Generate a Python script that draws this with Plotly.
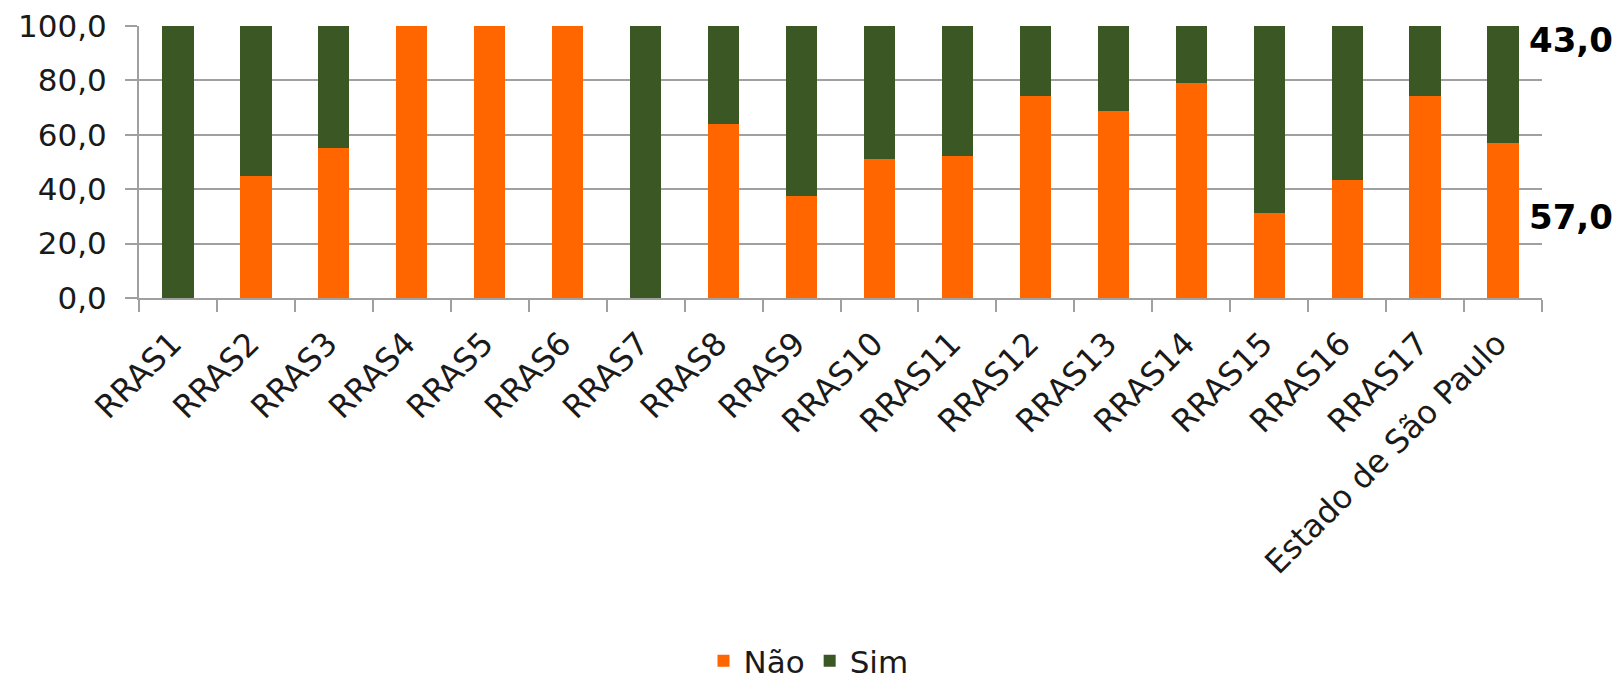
import plotly.graph_objects as go

categories = ["RRAS1", "RRAS2", "RRAS3", "RRAS4", "RRAS5", "RRAS6", "RRAS7", "RRAS8",
              "RRAS9", "RRAS10", "RRAS11", "RRAS12", "RRAS13", "RRAS14", "RRAS15",
              "RRAS16", "RRAS17", "Estado de São Paulo"]
nao = [0.0, 45.0, 55.0, 100.0, 100.0, 100.0, 0.0, 63.8, 37.4, 51.0, 52.2, 74.4,
       68.6, 79.0, 31.1, 43.3, 74.4, 57.0]
sim = [round(100 - v, 1) for v in nao]
label_values = [43.0, 57.0]
label_positions = [94.8, 29.8]

FONT = "DejaVu Sans, Verdana, sans-serif"
ORANGE = "#FF6600"
GREEN = "#3B5723"

fig = go.Figure()
fig.add_trace(go.Bar(x=categories, y=nao, name="Não", marker_color=ORANGE,
                     marker_line_width=0))
fig.add_trace(go.Bar(x=categories, y=sim, name="Sim", marker_color=GREEN,
                     marker_line_width=0))

for v, p in zip(label_values, label_positions):
    fig.add_annotation(x=categories[-1], y=p, xref="x", yref="y",
                       text="<b>" + f"{v:.1f}".replace(".", ",") + "</b>",
                       showarrow=False, xanchor="left", xshift=24,
                       font=dict(family=FONT, size=34, color="#000000"))

fig.update_layout(
    barmode="stack",
    bargap=0.6,
    width=1617, height=679,
    margin=dict(l=139, r=75, t=26, b=381),
    plot_bgcolor="white", paper_bgcolor="white",
    font=dict(family=FONT, size=30, color="#000000"),
    showlegend=True,
    separators=",.",
    legend=dict(orientation="h", xref="container", yref="container",
                x=0.5, xanchor="center", y=0.066, yanchor="top",
                font=dict(family=FONT, size=31, color="#1a1a1a"),
                traceorder="normal", itemwidth=30),
)
fig.update_xaxes(range=[-0.5, 17.5], automargin=False,
                 showline=True, linecolor="#A0A0A0", linewidth=2,
                 ticks="outside", ticklen=12, tickcolor="#A0A0A0", tickwidth=2,
                 tickson="boundaries", tickangle=-45,
                 ticklabelshift=-6, ticklabelstandoff=12,
                 tickfont=dict(family=FONT, size=32, color="#1a1a1a"))
fig.update_yaxes(range=[0, 100], dtick=20, tickformat=".1f", automargin=False,
                 showgrid=True, gridcolor="#A0A0A0", gridwidth=2,
                 showline=True, linecolor="#A0A0A0", linewidth=2,
                 ticks="outside", ticklen=12, tickcolor="#A0A0A0", tickwidth=2,
                 ticklabelstandoff=12,
                 tickfont=dict(family=FONT, size=31, color="#1a1a1a"))
fig.write_html("out.html", config={"displayModeBar": False},
               post_script="document.body.style.margin='0';document.body.style.overflow='hidden';")
